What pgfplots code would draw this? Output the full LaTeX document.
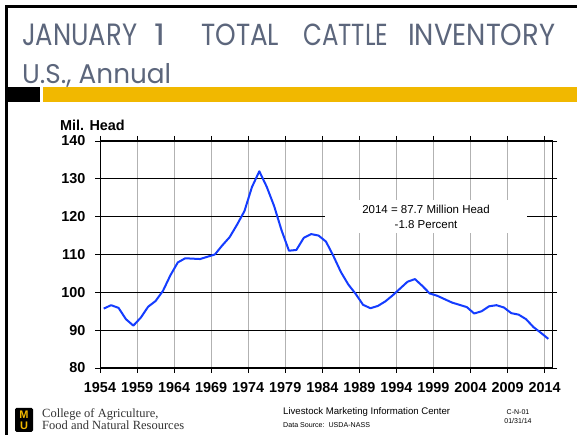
\documentclass[border=0pt]{standalone}
\usepackage{pgfplots}
\pgfplotsset{compat=1.18}
\usepackage{graphicx}
\usepackage{fontspec}
\setmainfont{Liberation Sans}
\newfontfamily\titlefont{Poppins}
\newfontfamily\seriffont{Liberation Serif}
\definecolor{mugold}{RGB}{241,184,0}
\definecolor{titlegray}{RGB}{92,102,124}
\definecolor{lineblue}{RGB}{20,60,255}
\begin{document}
\begin{tikzpicture}
\useasboundingbox (0pt,0pt) rectangle (577pt,435pt);
\fill[white] (0pt,0pt) rectangle (577pt,435pt);
% slide frame
\fill[black] (5pt,0pt) rectangle (8pt,430pt);
\fill[black] (5pt,427pt) rectangle (577pt,430pt);
% header bar
\fill[black] (5pt,333pt) rectangle (40pt,348pt);
\fill[mugold] (43pt,333pt) rectangle (577pt,348pt);
% title
\begin{scope}[every node/.style={anchor=base west, inner sep=0pt, text=titlegray}]
\node at (22pt,389pt) {\resizebox{115pt}{21.5pt}{\titlefont JANUARY}};
\node at (154pt,389pt) {\resizebox{11pt}{21.5pt}{\titlefont 1}};
\node at (201pt,389pt) {\resizebox{78pt}{21.5pt}{\titlefont TOTAL}};
\node at (303pt,389pt) {\resizebox{85pt}{21.5pt}{\titlefont CATTLE}};
\node at (408pt,389pt) {\resizebox{147pt}{21.5pt}{\titlefont INVENTORY}};
\node at (22pt,351.5pt) {\resizebox{149pt}{20pt}{\titlefont U.S., Annual}};
\end{scope}
% y axis title
\node[anchor=base west, inner sep=0pt, font=\bfseries\fontsize{14.4}{14.4}\selectfont] at (60pt,304pt) {Mil. Head};
\begin{axis}[
  at={(100pt,67pt)}, anchor=south west,
  width=452pt, height=227pt, scale only axis,
  xmin=1953.5, xmax=2014.5, ymin=80, ymax=140,
  xtick={1953.5,1958.5,1963.5,1968.5,1973.5,1978.5,1983.5,1988.5,1993.5,1998.5,2003.5,2008.5,2013.5},
  xticklabels={1954,1959,1964,1969,1974,1979,1984,1989,1994,1999,2004,2009,2014},
  ytick={80,90,...,140},
  tick align=outside, major tick length=5pt,
  xmajorgrids, ymajorgrids,
  x grid style={color=black!30, line width=1pt},
  y grid style={color=black, line width=0.8pt},
  axis line style={black, line width=1pt},
  tick style={black, line width=0.8pt},
  /pgf/number format/assume math mode=true,
  ticklabel style={font=\bfseries\fontsize{14.4}{14.4}\selectfont},
  xticklabel style={yshift=-6pt},
  yticklabel style={xshift=-6pt},
  clip=false,
]
\addplot[lineblue, line width=2pt, line join=round] coordinates {
(1954,95.7)(1955,96.6)(1956,95.9)(1957,92.9)(1958,91.2)(1959,93.3)
(1960,96.2)(1961,97.7)(1962,100.4)(1963,104.5)(1964,107.9)(1965,109.0)
(1966,108.9)(1967,108.8)(1968,109.4)(1969,110.0)(1970,112.4)(1971,114.6)
(1972,117.9)(1973,121.5)(1974,127.8)(1975,132.0)(1976,127.9)(1977,122.8)
(1978,116.4)(1979,111.0)(1980,111.2)(1981,114.4)(1982,115.4)(1983,115.0)
(1984,113.4)(1985,109.6)(1986,105.4)(1987,102.1)(1988,99.6)(1989,96.7)
(1990,95.8)(1991,96.4)(1992,97.6)(1993,99.2)(1994,101.0)(1995,102.8)
(1996,103.5)(1997,101.7)(1998,99.7)(1999,99.1)(2000,98.2)(2001,97.3)
(2002,96.7)(2003,96.1)(2004,94.4)(2005,95.0)(2006,96.3)(2007,96.6)
(2008,96.0)(2009,94.5)(2010,94.1)(2011,92.9)(2012,90.8)(2013,89.3)
(2014,87.7)
};
\node[fill=white, minimum width=202pt, minimum height=33pt, align=center, inner sep=0pt,
  font=\fontsize{11.5}{15}\selectfont] at (axis cs:1997.5,120) {2014 = 87.7 Million Head\\-1.8 Percent};
\end{axis}
% footer
\fill[black, rounded corners=1.5pt] (15pt,3pt) rectangle (33pt,27pt);
\node[text=mugold, inner sep=0pt, font=\bfseries\fontsize{11}{11}\selectfont] at (24pt,20.5pt) {M};
\node[text=mugold, inner sep=0pt, font=\bfseries\fontsize{11}{11}\selectfont] at (24pt,9.5pt) {U};
\node[anchor=base west, inner sep=0pt, text=black!80, font=\seriffont\fontsize{12.5}{12.5}\selectfont] at (42pt,17pt) {College of Agriculture,};
\node[anchor=base west, inner sep=0pt, text=black!80, font=\seriffont\fontsize{12.5}{12.5}\selectfont] at (42pt,5pt) {Food and Natural Resources};
\node[anchor=base west, inner sep=0pt, font=\fontsize{9.6}{9.6}\selectfont] at (283pt,20pt) {Livestock Marketing Information Center};
\node[anchor=base west, inner sep=0pt, font=\fontsize{7.1}{7.1}\selectfont] at (283pt,7pt) {Data Source:\ \ USDA-NASS};
\node[anchor=base, inner sep=0pt, font=\fontsize{7}{7}\selectfont] at (518pt,20pt) {C-N-01};
\node[anchor=base, inner sep=0pt, font=\fontsize{7}{7}\selectfont] at (518pt,11pt) {01/31/14};
\end{tikzpicture}
\end{document}
